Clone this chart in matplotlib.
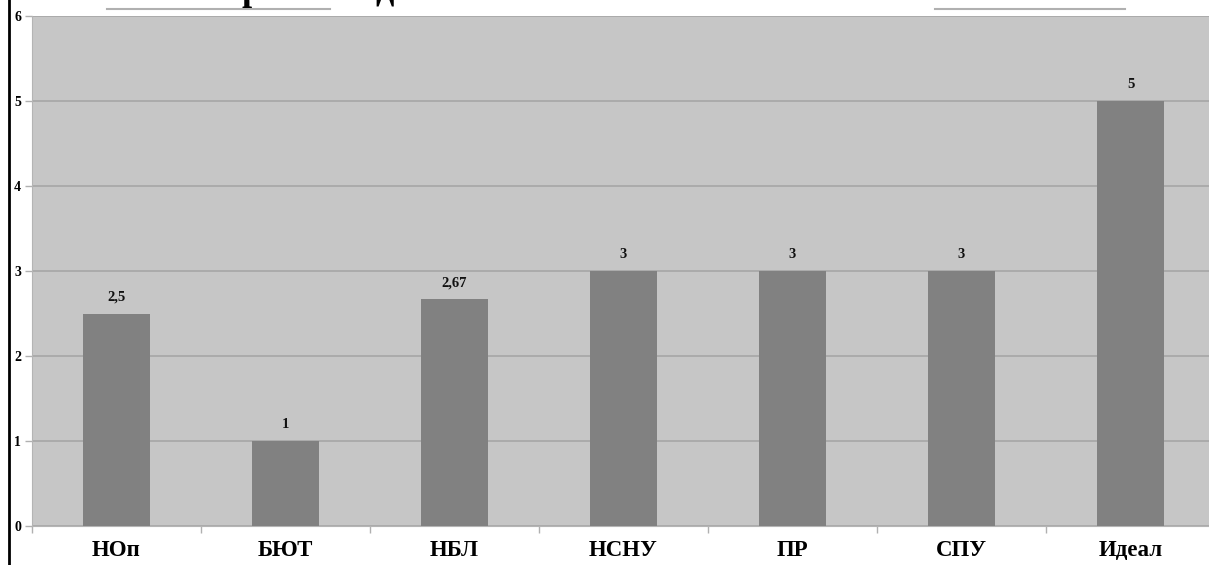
import numpy as np
import matplotlib.pyplot as plt
from matplotlib.lines import Line2D

parties = ['НОп', 'БЮТ', 'НБЛ', 'НСНУ', 'ПР', 'СПУ', 'Идеал']
scores = [2.5, 1, 2.67, 3, 3, 3, 5]
score_labels = ['2,5', '1', '2,67', '3', '3', '3', '5']
y_ticks = [0, 1, 2, 3, 4, 5, 6]

W, H = 1209, 565
fig = plt.figure(figsize=(W / 100, H / 100), dpi=100)
fig.patch.set_facecolor('white')

# plot area runs a little past the right edge of the picture
ax = fig.add_axes([32 / W, 39 / H, 1183 / W, 510 / H])
ax.set_facecolor('#c6c6c6')

x = np.arange(len(parties))
ax.bar(x, scores, width=0.4, color='#818181', zorder=3)
for xi, v, lab in zip(x, scores, score_labels):
    ax.annotate(lab, (xi, v), xytext=(0, 7), textcoords='offset points',
                ha='center', va='bottom', fontsize=10.5, fontweight='bold',
                family='Liberation Serif', color='#111111')

ax.set_xlim(-0.5, len(parties) - 0.5)
ax.set_ylim(0, 6)
ax.set_yticks(y_ticks)
ax.set_yticklabels([str(t) for t in y_ticks], fontsize=10, fontweight='bold',
                   family='Liberation Serif')
ax.yaxis.grid(True, color='#a6a6a6', linewidth=1.2, zorder=1)
ax.set_axisbelow(True)

ax.set_xticks(x)
ax.set_xticklabels(parties, fontsize=16.5, fontweight='bold', family='Liberation Serif')
ax.tick_params(axis='x', length=0, pad=10)
ax.set_xticks(np.arange(len(parties) + 1) - 0.5, minor=True)
ax.tick_params(axis='x', which='minor', length=5, color='#b0b0b0', width=1)
ax.tick_params(axis='y', length=5, color='#b0b0b0', width=1, pad=3)

for side in ['top', 'right']:
    ax.spines[side].set_visible(False)
ax.spines['left'].set_color('#b4b4b4')
ax.spines['bottom'].set_color('#b4b4b4')

# frame line on the left and pieces of the cropped heading
fig.add_artist(Line2D([8.5 / W, 8.5 / W], [0, 1], color='black', linewidth=2))
fig.add_artist(Line2D([107 / W, 330 / W], [1 - 9 / H, 1 - 9 / H], color='#b0b0b0', linewidth=1.5))
fig.add_artist(Line2D([935 / W, 1125 / W], [1 - 9 / H, 1 - 9 / H], color='#b0b0b0', linewidth=1.5))
fig.text(252 / W, 1.0, 'р', fontsize=26, fontweight='bold', family='Liberation Serif',
         ha='center', va='baseline', color='black')
fig.text(384 / W, 1.0, 'д', fontsize=26, fontweight='bold', family='Liberation Serif',
         ha='center', va='baseline', color='black')

fig.savefig('out.png', dpi=100)
